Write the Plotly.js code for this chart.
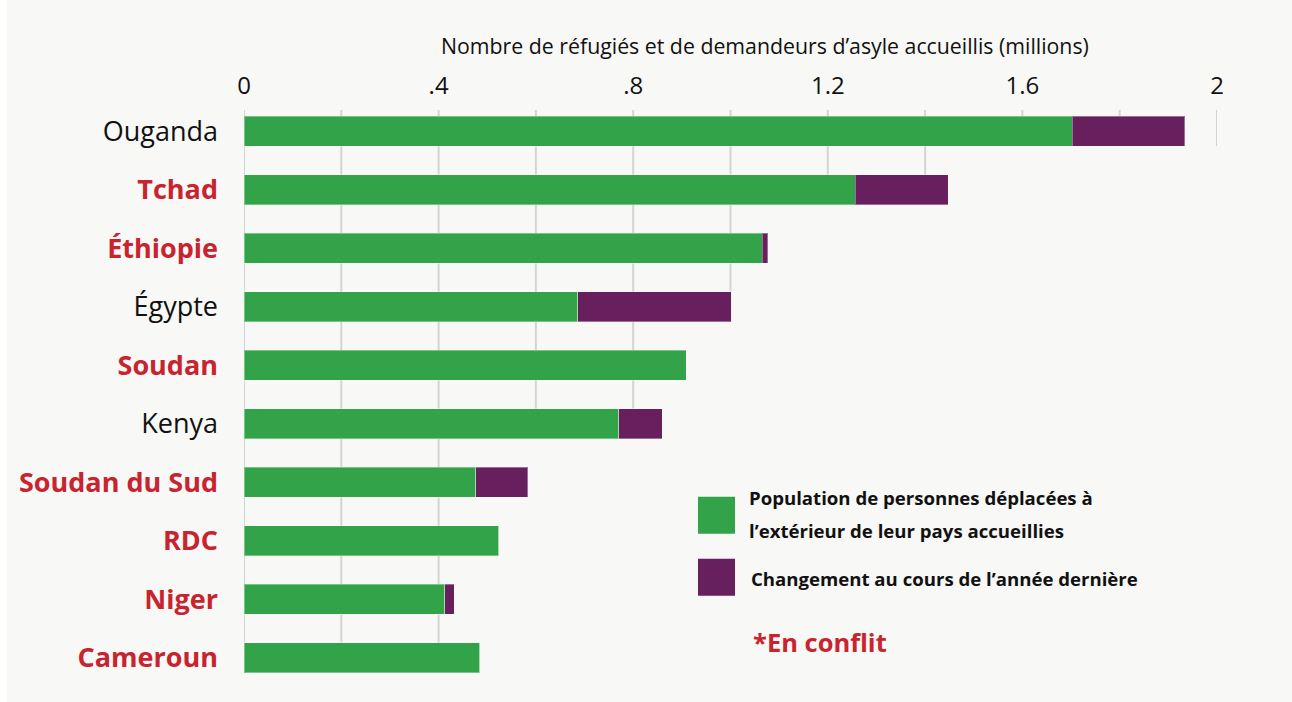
<!DOCTYPE html>
<html>
<head>
<meta charset="utf-8">
<script src="https://cdn.plot.ly/plotly-3.0.1.min.js"></script>
<style>
  html, body { margin: 0; padding: 0; background: #ffffff; }
  #chart { position: absolute; left: 7px; top: 0; width: 1285px; height: 702px; }
</style>
</head>
<body>
<div id="chart"></div>
<script>
// ---- data ----
const countries = ["Ouganda", "Tchad", "Éthiopie", "Égypte", "Soudan", "Kenya", "Soudan du Sud", "RDC", "Niger", "Cameroun"];
const inConflict = [false, true, true, false, true, false, true, true, true, true];
const hosted = [1.702, 1.256, 1.065, 0.686, 0.909, 0.770, 0.476, 0.524, 0.413, 0.485];
const change = [0.232, 0.192, 0.012, 0.316, 0, 0.090, 0.107, 0, 0.019, 0];
const xTickVals = [0, 0.4, 0.8, 1.2, 1.6, 2];
const xTickText = ["0", ".4", ".8", "1.2", "1.6", "2"];
const gridVals = [0, 0.2, 0.4, 0.6, 0.8, 1.0, 1.2, 1.4, 1.6, 1.8, 2.0];
const seriesNames = ["Population de personnes déplacées à l’extérieur de leur pays accueillies", "Changement au cours de l’année dernière"];
const axisTitle = "Nombre de réfugiés et de demandeurs d’asyle accueillis (millions)";
const conflictNote = "*En conflit";

// ---- style ----
const GREEN = "#33a34a", PURPLE = "#671f5e", RED = "#c8242f", GRID = "#d4d4d4";
const FONT = "Open Sans, Noto Sans, sans-serif";
const BAR_W = 0.512;
const idx = countries.map((_, i) => i);

// pixel -> paper helpers (page pixels; div offset 7px)
const M = { l: 237, r: 75, t: 110, b: 28.7 };
const W = 1285, H = 702;
const pw = W - M.l - M.r, ph = H - M.t - M.b;
const px = X => (X - 7 - M.l) / pw;
const py = Y => (H - M.b - Y) / ph;

const tickText = countries.map((c, i) => inConflict[i]
  ? '<span style="color:' + RED + '"><b>' + c + '</b></span>'
  : '<span style="color:#111">' + c + '</span>');

const totals = hosted.map((v, i) => v + change[i]);

const shapes = gridVals.map(g => {
  let last = -1;
  totals.forEach((t, i) => { if (t >= g) last = i; });
  if (last < 0) last = 0;
  return { type: "line", layer: "below", xref: "x", yref: "y",
           x0: g, x1: g, y0: -0.36, y1: last + BAR_W / 2,
           line: { color: GRID, width: 2 } };
});
// legend swatches
shapes.push({ type: "rect", xref: "paper", yref: "paper", x0: px(698), x1: px(735), y0: py(534), y1: py(497),
              fillcolor: GREEN, line: { width: 0 } });
shapes.push({ type: "rect", xref: "paper", yref: "paper", x0: px(698), x1: px(735), y0: py(596), y1: py(559),
              fillcolor: PURPLE, line: { width: 0 } });

const traces = [
  { type: "bar", orientation: "h", name: seriesNames[0], y: idx, x: hosted, width: BAR_W,
    marker: { color: GREEN, line: { color: "rgba(255,255,255,0.35)", width: 1 } }, hoverinfo: "x+name" },
  { type: "bar", orientation: "h", name: seriesNames[1], y: idx, x: change, width: BAR_W,
    marker: { color: PURPLE, line: { color: "rgba(255,255,255,0.35)", width: 1 } }, hoverinfo: "x+name" }
];

const annotations = [
  { text: axisTitle, xref: "paper", yref: "paper", x: px(765), y: py(45), xanchor: "center", yanchor: "middle",
    showarrow: false, font: { family: FONT, size: 21.3, color: "#111" } },
  { text: "<b>Population de personnes déplacées à</b>", xref: "paper", yref: "paper", x: px(747), y: py(498),
    xanchor: "left", yanchor: "middle", showarrow: false, font: { family: FONT, size: 18.6, color: "#111" } },
  { text: "<b>l’extérieur de leur pays accueillies</b>", xref: "paper", yref: "paper", x: px(747), y: py(531),
    xanchor: "left", yanchor: "middle", showarrow: false, font: { family: FONT, size: 18.6, color: "#111" } },
  { text: "<b>Changement au cours de l’année dernière</b>", xref: "paper", yref: "paper", x: px(749), y: py(579),
    xanchor: "left", yanchor: "middle", showarrow: false, font: { family: FONT, size: 18.6, color: "#111" } },
  { text: "<b>" + conflictNote + "</b>", xref: "paper", yref: "paper", x: px(751), y: py(642),
    xanchor: "left", yanchor: "middle", showarrow: false, font: { family: FONT, size: 25.5, color: RED } }
];

const layout = {
  width: W, height: H,
  margin: M,
  paper_bgcolor: "#f8f8f6", plot_bgcolor: "rgba(0,0,0,0)",
  barmode: "stack", showlegend: false,
  font: { family: FONT, color: "#111" },
  xaxis: { side: "top", range: [0, 2], tickvals: xTickVals, ticktext: xTickText,
           showgrid: false, zeroline: false, showline: false, ticks: "",
           ticklabelstandoff: 10, tickfont: { family: FONT, size: 24, color: "#111" }, fixedrange: true },
  yaxis: { range: [9.26, -0.36], tickvals: idx, ticktext: tickText,
           showgrid: false, zeroline: false, showline: false, ticks: "",
           ticklabelstandoff: 25, tickfont: { family: FONT, size: 27, color: "#111" }, fixedrange: true },
  shapes: shapes,
  annotations: annotations
};

Plotly.newPlot("chart", traces, layout, { displayModeBar: false, staticPlot: true });
</script>
</body>
</html>
